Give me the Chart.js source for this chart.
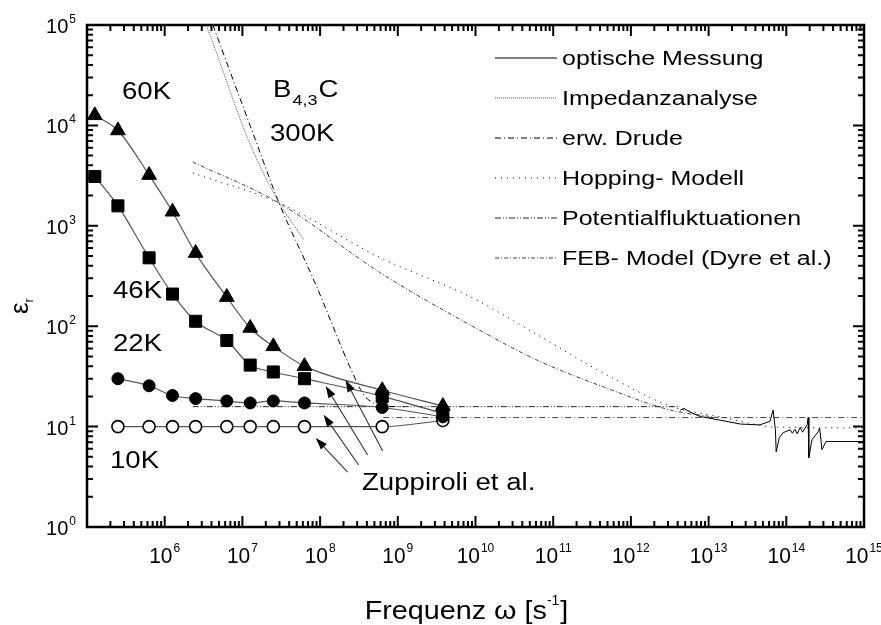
<!DOCTYPE html>
<html>
<head>
<meta charset="utf-8">
<script src="https://cdn.jsdelivr.net/npm/chart.js@4.4.0/dist/chart.umd.min.js"></script>
</head>
<body style="margin:0">
<canvas id="myChart" width="881" height="625"></canvas>
<script>
// Zuppiroli et al. data points (omega in s^-1)
let omega  = [1.26e5, 2.5e5, 6.3e5, 1.26e6, 2.5e6, 6.3e6, 1.26e7, 2.5e7, 6.3e7, 6.3e8, 3.8e9];
let eps60K = [12600, 8900, 3200, 1380, 535, 195, 96, 63, 40, 23, 16];
let eps46K = [3100, 1580, 480, 209, 112, 72, 41, 35, 30, 20, 13.5];
let eps22K = [null, 30, 25.5, 20.4, 19, 18, 17.2, 18, 17.2, 15.5, 12.5];
let eps10K = [null, 10, 10, 10, 10, 10, 10, 10, 10, 10, 11.5];

// optische Messung
let optX = [4.3e12, 4.8e12, 5.75e12, 7.8e12, 1.41e13, 2.57e13, 4.57e13, 6.17e13, 6.76e13, 7.24e13, 7.41e13, 8.13e13, 9.12e13,
            1.12e14, 1.2e14, 1.29e14, 1.38e14, 1.51e14, 1.62e14, 1.74e14, 1.86e14, 1.91e14, 1.95e14, 2.14e14, 2.57e14, 2.69e14,
            2.88e14, 3.24e14, 1e15];
let optY = [14.5, 15.2, 14, 12.6, 11.6, 10.6, 10.4, 11.3, 14.6, 9.3, 5.6, 7.8, 8.7,
            9.3, 8.6, 9.4, 8.5, 9.8, 8.8, 9.6, 10.5, 12.3, 4.9, 7.4, 8.9, 9.6,
            5.9, 7.1, 7.1];

// Impedanzanalyse
let impX = [2.6e6, 3.4e6, 1.2e7, 2.82e7, 6.2e7];
let impY = [1.6e5, 1e5, 7100, 1820, 725];

// erw. Drude
let drudeX = [3.2e6, 4.17e6, 1.48e7, 2.95e7, 8.3e7, 2.63e8, 3.6e8, 5e8, 7e8, 1.2e9];
let drudeY = [1.75e5, 1e5, 7080, 1700, 288, 34, 21, 17, 16, 15.8];

// Hopping- Modell
let hopX = [2.29e6, 2.95e7, 6.0e8, 8.7e9, 6.3e10, 4.47e11, 3.24e12, 1.41e13, 3e13, 7e13, 1e15];
let hopY = [3360, 1690, 480, 195, 82, 34, 16, 12.5, 11, 9.9, 9.7];

// Potentialfluktuationen
let potX = [2.3e6, 4.3e12];
let potY = [15.8, 15.8];

// FEB- Model (Dyre et al.)
let febX = [2.29e6, 2.95e7, 6.0e8, 8.7e9, 6.3e10, 4.47e11, 3.24e12, 1.41e13];
let febY = [4320, 1690, 339, 102, 45.7, 24.8, 14.6, 12.2];

// flat high-frequency limit
let limX = [6.5e8, 1e15];
let limY = [12.3, 12.3];

// arrows "Zuppiroli et al." (tail -> tip, data coords)
let arrowTails = [[2.26e8, 3.53], [3.13e8, 4.14], [4.09e8, 5.21], [6.38e8, 5.71]];
let arrowTips  = [[8.77e7, 7.69], [1.11e8, 13.1], [1.18e8, 25.4], [2.13e8, 29.1]];

// tick labels (powers of ten)
let xTickExp = [6, 7, 8, 9, 10, 11, 12, 13, 14, 15];
let yTickExp = [0, 1, 2, 3, 4, 5];

const FONT = '"Liberation Sans", Arial, sans-serif';
const X_MIN = 1e5, X_MAX = 1e15, Y_MIN = 1, Y_MAX = 1e5;

function pts(xs, ys) {
    let out = [];
    for (let i = 0; i < xs.length; i++) out.push({x: xs[i], y: ys[i]});
    return out;
}

function symbolSet(label, ys, style, radius, fill) {
    return {
        label: label, data: pts(omega, ys),
        borderColor: '#555', borderWidth: 1.2, cubicInterpolationMode: 'monotone',
        pointStyle: style, pointRadius: radius, pointBackgroundColor: fill,
        pointBorderColor: '#000', pointBorderWidth: style === 'circle' && fill === '#fff' ? 1.6 : 1
    };
}

function modelSet(label, xs, ys, color, dash, smooth) {
    return {
        label: label, data: pts(xs, ys),
        borderColor: color, borderWidth: 1, borderDash: dash, pointRadius: 0,
        cubicInterpolationMode: smooth ? 'monotone' : 'default', tension: 0
    };
}

// inward tick marks on all four sides as short line pieces (null breaks the line)
// lengths are given in decades: 11px / 6px on the axes
function tickPieces() {
    let out = [];
    for (let e = 5; e <= 15; e++) {
        for (let k = 1; k <= 9; k++) {
            let v = k * Math.pow(10, e);
            if (v > 1.0001e15) break;
            let d = k === 1 ? 0.11 : 0.06;
            out.push({x: v, y: Y_MIN}, {x: v, y: Math.pow(10, d)}, {x: v, y: null});
            out.push({x: v, y: Y_MAX}, {x: v, y: Math.pow(10, 5 - d)}, {x: v, y: null});
        }
    }
    for (let e = 0; e <= 5; e++) {
        for (let k = 1; k <= 9; k++) {
            let v = k * Math.pow(10, e);
            if (v > 1.0001e5) break;
            let d = k === 1 ? 0.142 : 0.077;
            out.push({x: X_MIN, y: v}, {x: Math.pow(10, 5 + d), y: v}, {x: X_MIN, y: null});
            out.push({x: X_MAX, y: v}, {x: Math.pow(10, 15 - d), y: v}, {x: X_MAX, y: null});
        }
    }
    return out;
}

function stretchText(ctx, text, x, y, sx) {
    ctx.save();
    ctx.translate(x, y);
    ctx.scale(sx, 1);
    ctx.fillText(text, 0, 0);
    ctx.restore();
    return ctx.measureText(text).width * sx;
}

function seg(ctx, x1, y1, x2, y2) {
    ctx.beginPath();
    ctx.moveTo(x1, y1);
    ctx.lineTo(x2, y2);
    ctx.stroke();
}

// frame, tick labels, texts, arrows and legend
const decorations = {
    id: 'decorations',
    afterDraw(chart) {
        const ctx = chart.ctx;
        const a = chart.chartArea;
        const xs = chart.scales.x, ys = chart.scales.y;
        ctx.save();
        ctx.setLineDash([]);
        ctx.strokeStyle = '#000';
        ctx.fillStyle = '#000';
        ctx.lineWidth = 2.5;
        ctx.strokeRect(a.left, a.top, a.right - a.left, a.bottom - a.top);

        ctx.textBaseline = 'alphabetic';
        ctx.textAlign = 'left';
        xTickExp.forEach(function(e) {
            let px = xs.getPixelForValue(Math.pow(10, e));
            ctx.font = '22px ' + FONT;
            let w1 = ctx.measureText('10').width * 0.95;
            ctx.font = '12px ' + FONT;
            let w2 = ctx.measureText(String(e)).width;
            let left = px - (w1 + w2 + 1) / 2;
            ctx.font = '22px ' + FONT;
            stretchText(ctx, '10', left, 563, 0.95);
            ctx.font = '12px ' + FONT;
            ctx.fillText(String(e), left + w1 + 1, 552);
        });
        yTickExp.forEach(function(e) {
            let py = ys.getPixelForValue(Math.pow(10, e));
            ctx.font = '12px ' + FONT;
            let w2 = ctx.measureText(String(e)).width;
            ctx.font = '20px ' + FONT;
            let w1 = ctx.measureText('10').width;
            ctx.fillText('10', 76 - w2 - 1 - w1, py + 8);
            ctx.font = '12px ' + FONT;
            ctx.fillText(String(e), 76 - w2, py - 2);
        });

        // axis titles
        ctx.font = '25px ' + FONT;
        let t1 = 'Frequenz \u03c9 [s', t2 = '-1', t3 = ']';
        let tw1 = ctx.measureText(t1).width * 1.15;
        let tw3 = ctx.measureText(t3).width * 1.15;
        ctx.font = '14px ' + FONT;
        let tw2 = ctx.measureText(t2).width;
        let start = 466 - (tw1 + tw2 + tw3) / 2;
        ctx.font = '25px ' + FONT;
        stretchText(ctx, t1, start, 619, 1.15);
        stretchText(ctx, t3, start + tw1 + tw2 + 1, 619, 1.15);
        ctx.font = '14px ' + FONT;
        ctx.fillText(t2, start + tw1, 605);

        ctx.save();
        ctx.translate(28, 314);
        ctx.rotate(-Math.PI / 2);
        ctx.font = '26px ' + FONT;
        ctx.fillText('\u03b5', 0, 0);
        let we = ctx.measureText('\u03b5').width;
        ctx.font = '13px ' + FONT;
        ctx.fillText('r', we, 5);
        ctx.restore();

        // texts in the plot
        ctx.font = '23px ' + FONT;
        [['60K', 122, 99], ['300K', 270, 141], ['46K', 113, 298], ['22K', 113, 351],
         ['10K', 110, 468], ['Zuppiroli et al.', 362, 490]].forEach(function(n) {
            stretchText(ctx, n[0], n[1], n[2], 1.2);
        });
        let bx = 273;
        bx += stretchText(ctx, 'B', bx, 97, 1.2) + 1;
        ctx.font = '15px ' + FONT;
        bx += stretchText(ctx, '4,3', bx, 105, 1.2) + 1;
        ctx.font = '23px ' + FONT;
        stretchText(ctx, 'C', bx, 97, 1.2);

        // arrows
        ctx.strokeStyle = '#333';
        ctx.lineWidth = 1.1;
        for (let i = 0; i < arrowTails.length; i++) {
            let x1 = xs.getPixelForValue(arrowTails[i][0]), y1 = ys.getPixelForValue(arrowTails[i][1]);
            let x2 = xs.getPixelForValue(arrowTips[i][0]), y2 = ys.getPixelForValue(arrowTips[i][1]);
            let ang = Math.atan2(y2 - y1, x2 - x1);
            let hl = 12, hw = 4;
            let hx = x2 - hl * Math.cos(ang), hy = y2 - hl * Math.sin(ang);
            seg(ctx, x1, y1, hx, hy);
            ctx.beginPath();
            ctx.moveTo(x2, y2);
            ctx.lineTo(hx + hw * Math.sin(ang), hy - hw * Math.cos(ang));
            ctx.lineTo(hx - hw * Math.sin(ang), hy + hw * Math.cos(ang));
            ctx.closePath();
            ctx.fill();
        }

        // legend: the six model curves (datasets 4..9)
        chart.data.datasets.slice(4, 10).forEach(function(ds, row) {
            let cy = 58 + row * 40;
            ctx.strokeStyle = ds.borderColor;
            ctx.lineWidth = ds.borderWidth;
            ctx.setLineDash(ds.borderDash || []);
            seg(ctx, 495, cy, 557, cy);
            ctx.setLineDash([]);
            ctx.font = '20px ' + FONT;
            stretchText(ctx, ds.label, 562, cy + 7, 1.25);
        });
        ctx.restore();
    }
};

new Chart(document.getElementById('myChart').getContext('2d'), {
    type: 'line',
    data: {
        datasets: [
            symbolSet('60K', eps60K, 'triangle', 8.5, '#000'),
            symbolSet('46K', eps46K, 'rect', 8.5, '#000'),
            symbolSet('22K', eps22K, 'circle', 6, '#000'),
            symbolSet('10K', eps10K, 'circle', 6, '#fff'),
            modelSet('optische Messung', optX, optY, '#000', [], false),
            modelSet('Impedanzanalyse', impX, impY, '#555', [1, 1], true),
            modelSet('erw. Drude', drudeX, drudeY, '#000', [6, 3, 1, 3], true),
            modelSet('Hopping- Modell', hopX, hopY, '#000', [1, 5], true),
            modelSet('Potentialfluktuationen', potX, potY, '#222', [6, 2, 1, 2, 1, 2], false),
            modelSet('FEB- Model (Dyre et al.)', febX, febY, '#444', [4, 2, 1, 2], true),
            modelSet('limit', limX, limY, '#444', [6, 3, 1, 3], false),
            {
                label: 'ticks', data: tickPieces(), borderColor: '#000', borderWidth: 2,
                pointRadius: 0, tension: 0, spanGaps: false, borderCapStyle: 'butt'
            }
        ]
    },
    options: {
        responsive: false,
        animation: false,
        events: [],
        layout: { padding: { left: 87, right: 17, top: 25, bottom: 98 } },
        scales: {
            x: { type: 'logarithmic', min: X_MIN, max: X_MAX, display: false },
            y: { type: 'logarithmic', min: Y_MIN, max: Y_MAX, display: false }
        },
        plugins: {
            legend: { display: false },
            tooltip: { enabled: false }
        }
    },
    plugins: [decorations]
});
</script>
</body>
</html>
